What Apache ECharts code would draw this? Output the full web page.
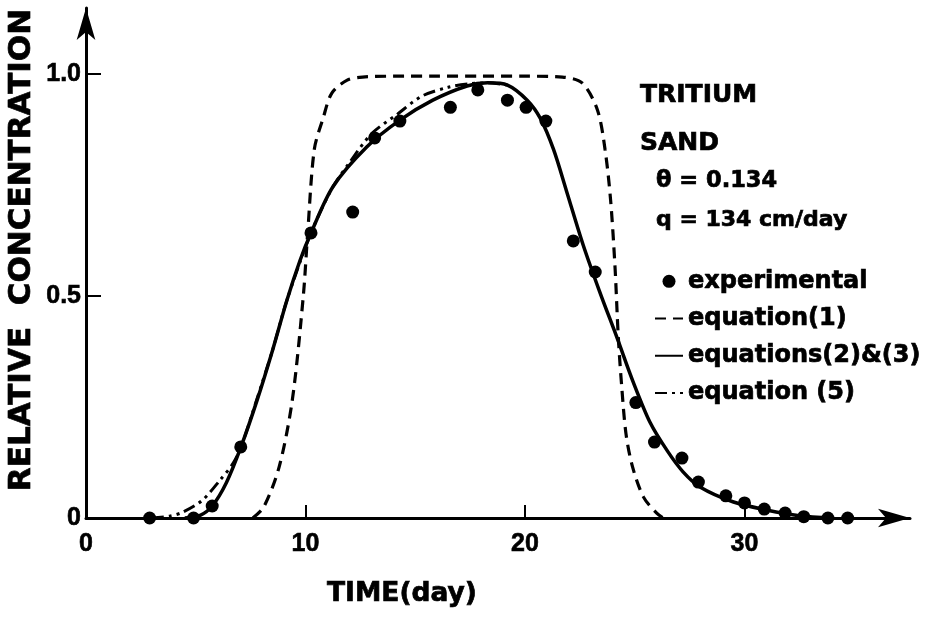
<!DOCTYPE html>
<html>
<head>
<meta charset="utf-8">
<script src="https://cdn.jsdelivr.net/npm/echarts@6/dist/echarts.min.js"></script>
<style>html,body{margin:0;padding:0;background:#fff;}#c{width:932px;height:624px;}</style>
</head>
<body>
<div id="c"></div>
<script>
// ---- data ----
var expX = [2.9, 4.9, 5.75, 7.05, 10.25, 12.15, 13.15, 14.3, 16.6, 17.85, 19.2, 20.05, 20.95, 22.2, 23.2, 25.05, 25.9, 27.15, 27.9, 29.15, 30.0, 30.9, 31.85, 32.7, 33.8, 34.7];
var expY = [0, 0, 0.027, 0.16, 0.642, 0.689, 0.856, 0.894, 0.925, 0.964, 0.941, 0.925, 0.894, 0.624, 0.554, 0.26, 0.171, 0.135, 0.081, 0.05, 0.034, 0.02, 0.011, 0.003, 0, 0];

var eq1X = [7.6, 8.1, 8.8, 9.4, 9.9, 10.1, 10.4, 10.8, 11.2, 11.9, 12.6, 14, 16, 18, 20, 21.7, 22.6, 23.3, 23.65, 23.9, 24.1, 24.25, 24.4, 24.6, 24.9, 25.4, 26.0, 26.3];
var eq1Y = [0, 0.025, 0.115, 0.266, 0.5, 0.642, 0.83, 0.90, 0.957, 0.986, 0.993, 0.995, 0.995, 0.995, 0.995, 0.993, 0.98, 0.919, 0.829, 0.716, 0.566, 0.408, 0.30, 0.19, 0.115, 0.047, 0.011, 0];

var eq23X = [4.5, 5.2, 5.75, 6.4, 7.06, 7.8, 8.5, 9.15, 9.75, 10.25, 11.25, 12.8, 14.3, 15.8, 17.36, 18.3, 19.2, 20.1, 20.7, 21.3, 21.9, 22.65, 23.4, 24.2, 24.9, 25.7, 26.5, 27.2, 27.97, 29.5, 31.0, 32.5, 34.0];
var eq23Y = [0, 0.006, 0.027, 0.08, 0.16, 0.266, 0.378, 0.49, 0.58, 0.642, 0.746, 0.836, 0.896, 0.941, 0.973, 0.98, 0.975, 0.941, 0.90, 0.83, 0.735, 0.615, 0.51, 0.405, 0.31, 0.215, 0.15, 0.104, 0.07, 0.036, 0.018, 0.005, 0];

var eq5X = [3.0, 3.8, 4.4, 5.3, 6.1, 6.7, 7.1, 7.8, 8.5, 9.15, 10.25, 11.25, 12.0, 13.0, 14.2, 15.3, 16.5, 17.5, 18.3, 19.2];
var eq5Y = [0, 0.004, 0.013, 0.04, 0.085, 0.123, 0.165, 0.27, 0.378, 0.49, 0.642, 0.746, 0.80, 0.865, 0.91, 0.95, 0.97, 0.978, 0.98, 0.975];

var xTickValues = [10, 20, 30];
var xLabelValues = [0, 10, 20, 30];
var yTickValues = [0.5, 1.0];
var yLabelValues = [0, 0.5, 1.0];

var legendNames = ['experimental', 'equation(1)', 'equations(2)&(3)', 'equation (5)'];
var noteLines = ['TRITIUM', 'SAND', '\u03B8 = 0.134', 'q = 134 cm/day'];
var xTitle = 'TIME(day)';
var yTitle = 'RELATIVE  CONCENTRATION';

function zip(xs, ys) { return xs.map(function (x, i) { return [x, ys[i]]; }); }

var chart = echarts.init(document.getElementById('c'), null, {renderer: 'canvas'});
var INK = '#000';
var labelFont = {color: INK, fontFamily: 'Liberation Sans', fontWeight: 'bold', fontSize: 25, textBorderColor: INK, textBorderWidth: 0.6};
var noteFont = function (size) { return 'bold ' + size + 'px "DejaVu Sans"'; };
function note(x, y, text, size, extra) {
  var el = {type: 'text', x: x, y: y,
    style: {text: text, textAlign: 'left', textVerticalAlign: 'middle', font: noteFont(size), fill: INK, stroke: INK, lineWidth: 0.7}};
  if (extra) { for (var k in extra) { el[k] = extra[k]; } }
  return el;
}

chart.setOption({
  backgroundColor: '#fff',
  animation: false,
  grid: {left: 86, right: 22, top: 8, bottom: 106, containLabel: false},
  xAxis: {
    type: 'value', min: 0, max: 37.54,
    axisLine: {show: true, symbol: ['none', 'arrow'], symbolSize: [14, 32], lineStyle: {color: INK, width: 3}},
    axisTick: {show: true, inside: true, length: 13, customValues: xTickValues, lineStyle: {color: INK, width: 2}},
    axisLabel: Object.assign({customValues: xLabelValues, margin: 14}, labelFont),
    splitLine: {show: false}
  },
  yAxis: {
    type: 'value', min: 0, max: 1.1486,
    axisLine: {show: true, symbol: ['none', 'arrow'], symbolSize: [14, 32], lineStyle: {color: INK, width: 3}},
    axisTick: {show: true, inside: true, length: 15, customValues: yTickValues, lineStyle: {color: INK, width: 2}},
    axisLabel: Object.assign({customValues: yLabelValues, margin: 5, formatter: function (v) { return v === 0 ? '0' : v.toFixed(1); }}, labelFont),
    splitLine: {show: false}
  },
  legend: {
    orient: 'vertical', left: 654, top: 269, padding: 0, itemGap: 12.5,
    itemWidth: 28, itemHeight: 13,
    data: [
      {name: legendNames[0]},
      {name: legendNames[1], itemStyle: {opacity: 0}},
      {name: legendNames[2], itemStyle: {opacity: 0}},
      {name: legendNames[3], itemStyle: {opacity: 0}}
    ],
    textStyle: {color: INK, fontFamily: 'DejaVu Sans', fontWeight: 'bold', fontSize: 24, textBorderColor: INK, textBorderWidth: 0.7}
  },
  graphic: [
    note(22, 250, yTitle, 31, {rotation: Math.PI / 2}),
    note(402, 594, xTitle, 26.5),
    note(640, 95, noteLines[0], 25),
    note(640, 143, noteLines[1], 25),
    note(656, 181, noteLines[2], 22.5),
    note(656, 220, noteLines[3], 22)
  ].map(function (el, i) { if (i < 2) { el.style.textAlign = 'center'; } return el; }),
  series: [
    {name: legendNames[1], type: 'line', data: zip(eq1X, eq1Y), smooth: 0.3, showSymbol: false, symbol: 'none',
      lineStyle: {color: INK, width: 3.2, type: [11, 7]}, itemStyle: {color: INK}, z: 2},
    {name: legendNames[3], type: 'line', data: zip(eq5X, eq5Y), smooth: 0.3, showSymbol: false, symbol: 'none',
      lineStyle: {color: INK, width: 3, type: [12, 5, 3, 5, 3, 5]}, itemStyle: {color: INK}, z: 3},
    {name: legendNames[2], type: 'line', data: zip(eq23X, eq23Y), smooth: 0.3, showSymbol: false, symbol: 'none',
      lineStyle: {color: INK, width: 3.5}, itemStyle: {color: INK}, z: 4},
    {name: legendNames[0], type: 'scatter', data: zip(expX, expY), symbol: 'circle', symbolSize: 13,
      itemStyle: {color: INK, opacity: 1}, z: 5}
  ]
});
</script>
</body>
</html>
